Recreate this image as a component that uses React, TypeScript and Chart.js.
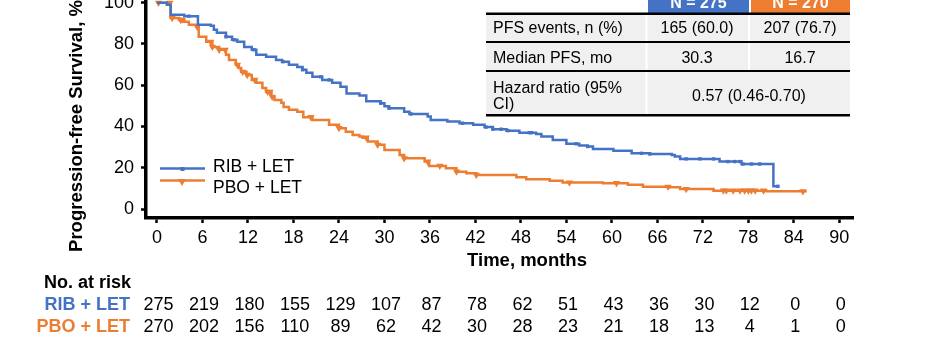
import React, { useEffect, useRef } from "react";
import { Chart, registerables } from "chart.js";

Chart.register(...registerables);

// ---------------- data ----------------
const xTicks = [0, 6, 12, 18, 24, 30, 36, 42, 48, 54, 60, 66, 72, 78, 84, 90];
const yTicks = [0, 20, 40, 60, 80, 100];

const seriesNames = ["RIB + LET", "PBO + LET"];

const ribTimes = [0, 1.3, 1.8, 3.6, 5.4, 7.1, 7.5, 7.9, 9.1, 9.9, 10.6, 11.5, 12.5, 13.1, 14.4, 15.7, 16.5, 17.4, 18.5, 19.2, 19.7, 20.5, 21.8, 23.1, 24.2, 25.0, 26.7, 27.6, 29.5, 30.0, 30.6, 32.6, 33.3, 35.7, 36.1, 38.3, 39.9, 41.7, 43.2, 44.3, 46.1, 47.8, 50.0, 50.7, 52.2, 54.0, 55.7, 56.8, 57.5, 60.2, 62.6, 65.0, 67.9, 68.3, 69.0, 74.2, 77.1, 81.3, 81.9];
const ribSurv = [100, 99.0, 94.2, 93.5, 89.3, 88.8, 86.9, 85.4, 83.5, 82.0, 81.1, 78.6, 77.2, 74.8, 73.8, 72.3, 71.4, 69.9, 68.9, 67.5, 66.0, 64.1, 62.6, 61.2, 59.3, 56.0, 55.0, 52.3, 51.3, 49.8, 48.9, 47.2, 46.1, 44.8, 43.2, 42.4, 41.6, 40.8, 39.7, 38.7, 38.0, 37.0, 36.4, 35.1, 33.5, 31.6, 30.8, 30.3, 29.1, 28.3, 27.0, 26.7, 26.2, 25.4, 24.3, 23.0, 21.8, 11.0, 11.0];

const pboTimes = [0, 1.8, 2.9, 3.6, 4.2, 5.2, 5.5, 6.5, 7.3, 8.2, 9.1, 9.5, 10.4, 10.8, 11.1, 11.8, 12.5, 13.1, 13.9, 14.4, 15.1, 15.5, 16.4, 16.7, 17.4, 18.5, 19.3, 20.5, 22.7, 24.0, 24.9, 25.8, 26.7, 27.1, 27.8, 29.1, 30.0, 32.0, 32.6, 35.3, 35.9, 38.1, 39.5, 40.8, 42.1, 47.4, 48.7, 51.8, 53.5, 58.8, 62.1, 64.1, 67.6, 69.0, 73.4, 80.4, 85.7];
const pboSurv = [100, 92.6, 91.7, 90.8, 89.3, 88.3, 83.5, 81.1, 78.6, 77.2, 74.8, 72.3, 69.9, 68.4, 66.5, 65.0, 62.6, 61.2, 58.7, 56.8, 54.4, 52.9, 51.5, 49.5, 48.1, 47.2, 44.5, 43.2, 40.8, 39.2, 37.5, 35.9, 35.1, 34.6, 32.7, 31.1, 28.6, 26.2, 24.6, 23.0, 20.9, 19.8, 18.1, 17.3, 16.5, 15.4, 14.4, 13.7, 12.8, 12.5, 11.7, 10.8, 10.5, 9.7, 8.9, 8.6, 8.6];

const ribCensor = [4.2, 9.1, 10.2, 12.8, 16.6, 19.2, 21.6, 22.7, 29.5, 30.6, 33.5, 40.3, 43.4, 44.3, 45.4, 46.3, 49.1, 49.4, 55.3, 56.8, 63.9, 65.0, 69.8, 71.6, 73.4, 75.3, 76.2, 76.9, 77.3, 78.4, 79.5, 81.9];
const pboCensor = [0.2, 1.7, 2.0, 3.1, 3.3, 5.3, 7.1, 7.3, 8.2, 9.0, 10.6, 11.3, 11.9, 12.9, 14.6, 14.9, 15.2, 20.3, 24.0, 27.6, 29.1, 32.6, 35.7, 37.3, 39.5, 42.1, 54.4, 60.6, 67.4, 69.8, 74.7, 75.1, 76.0, 76.9, 77.5, 78.0, 78.4, 78.9, 80.0, 85.2];

const atRiskRib = [275, 219, 180, 155, 129, 107, 87, 78, 62, 51, 43, 36, 30, 12, 0, 0];
const atRiskPbo = [270, 202, 156, 110, 89, 62, 42, 30, 28, 23, 21, 18, 13, 4, 1, 0];

const armHeaders = ["N = 275", "N = 270"];
const statLabels = ["PFS events, n (%)", "Median PFS, mo"];
const ribStats = ["165 (60.0)", "30.3"];
const pboStats = ["207 (76.7)", "16.7"];
const hrLabel = ["Hazard ratio (95%", "CI)"];
const hrValue = "0.57 (0.46-0.70)";

// ---------------- style ----------------
const BLUE = "#4472C4";
const ORANGE = "#ED7D31";
const FONT = '"Liberation Sans", Arial, Helvetica, sans-serif';
const W = 947;
const H = 346;
const OFF = 30; // canvas extends above the visible window

function survAt(times: number[], surv: number[], t: number): number {
  let v = surv[0];
  for (let i = 0; i < times.length; i++) {
    if (times[i] <= t) v = surv[i];
    else break;
  }
  return v;
}

const overlayPlugin = {
  id: "overlay",
  afterDraw(chart: any) {
    const ctx = chart.ctx as CanvasRenderingContext2D;
    const xs = chart.scales.x;
    ctx.save();
    ctx.translate(0, OFF);

    // y-axis title
    ctx.save();
    ctx.translate(82, 126);
    ctx.rotate(-Math.PI / 2);
    ctx.font = `bold 18.5px ${FONT}`;
    ctx.fillStyle = "#000";
    ctx.textAlign = "center";
    ctx.textBaseline = "alphabetic";
    ctx.fillText("Progression-free Survival, %", 0, 0);
    ctx.restore();

    // x-axis title
    ctx.font = `bold 18.5px ${FONT}`;
    ctx.fillStyle = "#000";
    ctx.textAlign = "center";
    ctx.textBaseline = "alphabetic";
    ctx.fillText("Time, months", 527, 266);

    // legend
    ctx.lineWidth = 2.5;
    ctx.strokeStyle = BLUE;
    ctx.beginPath();
    ctx.moveTo(160, 168.5);
    ctx.lineTo(205, 168.5);
    ctx.stroke();
    ctx.fillStyle = BLUE;
    ctx.fillRect(180.5, 167, 4, 4);
    ctx.strokeStyle = ORANGE;
    ctx.beginPath();
    ctx.moveTo(160, 180.5);
    ctx.lineTo(205, 180.5);
    ctx.stroke();
    ctx.fillStyle = ORANGE;
    ctx.beginPath();
    ctx.moveTo(178, 179);
    ctx.lineTo(186, 179);
    ctx.lineTo(182, 186);
    ctx.closePath();
    ctx.fill();
    ctx.font = `17.5px ${FONT}`;
    ctx.fillStyle = "#000";
    ctx.textAlign = "left";
    ctx.fillText(seriesNames[0], 213, 172);
    ctx.fillText(seriesNames[1], 213, 193);

    // summary table
    const TL = 486, TR = 850;
    ctx.fillStyle = BLUE;
    ctx.fillRect(648, -20, 101, 34);
    ctx.fillStyle = ORANGE;
    ctx.fillRect(751, -20, TR - 751, 34);
    ctx.font = `bold 16px ${FONT}`;
    ctx.fillStyle = "#fff";
    ctx.textAlign = "center";
    ctx.fillText(armHeaders[0], 698.5, 8);
    ctx.fillText(armHeaders[1], 800.5, 8);

    ctx.fillStyle = "#F0F0F0";
    ctx.fillRect(TL, 14, TR - TL, 101);
    ctx.fillStyle = "#fff";
    ctx.fillRect(645.5, 14, 2, 101);
    ctx.fillRect(748, 14, 2, 57);

    ctx.fillStyle = "#000";
    ctx.fillRect(TL, 12.5, TR - TL, 2.5);
    ctx.fillRect(TL, 41, TR - TL, 2);
    ctx.fillRect(TL, 70, TR - TL, 2);
    ctx.fillRect(TL, 114, TR - TL, 2.5);

    ctx.font = `16px ${FONT}`;
    ctx.fillStyle = "#000";
    ctx.textAlign = "left";
    ctx.fillText(statLabels[0], 493, 33);
    ctx.fillText(statLabels[1], 493, 62.5);
    ctx.fillText(hrLabel[0], 493, 92.5);
    ctx.fillText(hrLabel[1], 493, 109);
    ctx.textAlign = "center";
    ctx.fillText(ribStats[0], 697, 33);
    ctx.fillText(pboStats[0], 800, 33);
    ctx.fillText(ribStats[1], 697, 62.5);
    ctx.fillText(pboStats[1], 800, 62.5);
    ctx.fillText(hrValue, 749, 100.5);

    // number at risk
    ctx.font = `bold 18px ${FONT}`;
    ctx.textAlign = "right";
    ctx.fillStyle = "#000";
    ctx.fillText("No. at risk", 131, 288);
    ctx.fillStyle = BLUE;
    ctx.fillText(seriesNames[0], 130, 310);
    ctx.fillStyle = ORANGE;
    ctx.fillText(seriesNames[1], 130, 331.5);
    ctx.font = `18px ${FONT}`;
    ctx.textAlign = "center";
    ctx.fillStyle = "#000";
    xTicks.forEach((t, i) => {
      const px = xs.getPixelForValue(t) + 1.5;
      ctx.fillText(String(atRiskRib[i]), px, 310);
      ctx.fillText(String(atRiskPbo[i]), px, 331.5);
    });

    ctx.restore();
  },
};

export default function App() {
  const ref = useRef<HTMLCanvasElement | null>(null);

  useEffect(() => {
    document.body.style.margin = "0";
    const canvas = ref.current!;
    const ribLine = ribTimes.map((t, i) => ({ x: t, y: ribSurv[i] }));
    const pboLine = pboTimes.map((t, i) => ({ x: t, y: pboSurv[i] }));
    const ribMarks = ribCensor.map((t) => ({ x: t, y: survAt(ribTimes, ribSurv, t) }));
    const pboMarks = pboCensor.map((t) => ({ x: t, y: survAt(pboTimes, pboSurv, t) }));

    const chart = new Chart(canvas, {
      type: "line",
      data: {
        datasets: [
          {
            label: seriesNames[0] + " censored",
            data: ribMarks,
            showLine: false,
            pointStyle: "rect",
            pointRadius: 2.4,
            pointBackgroundColor: BLUE,
            pointBorderColor: BLUE,
            pointBorderWidth: 0,
          },
          {
            label: seriesNames[0],
            data: ribLine,
            stepped: "before",
            borderColor: BLUE,
            borderWidth: 2.5,
            pointRadius: 0,
            fill: false,
          },
          {
            label: seriesNames[1] + " censored",
            data: pboMarks,
            showLine: false,
            pointStyle: "triangle",
            rotation: 180,
            pointRadius: 4.2,
            pointBackgroundColor: ORANGE,
            pointBorderColor: ORANGE,
            pointBorderWidth: 0,
          },
          {
            label: seriesNames[1],
            data: pboLine,
            stepped: "before",
            borderColor: ORANGE,
            borderWidth: 2.5,
            pointRadius: 0,
            fill: false,
          },
        ] as any,
      },
      options: {
        responsive: false,
        animation: false,
        devicePixelRatio: 1,
        layout: { padding: { top: OFF, right: W - 853, left: 0, bottom: 0 } },
        plugins: {
          legend: { display: false },
          tooltip: { enabled: false },
        },
        scales: {
          x: {
            type: "linear",
            min: -1.45,
            max: 91.8,
            afterBuildTicks: (s: any) => {
              s.ticks = xTicks.map((v) => ({ value: v }));
            },
            afterFit: (s: any) => {
              s.height = H + OFF - (OFF + 218);
            },
            border: { display: true, color: "#000", width: 3.5 },
            grid: {
              drawOnChartArea: false,
              drawTicks: true,
              tickLength: 5,
              tickColor: "#000",
              tickWidth: 2.5,
            },
            ticks: {
              color: "#000",
              font: { family: FONT, size: 18 },
              padding: 4,
              maxRotation: 0,
              autoSkip: false,
              callback: (v: any) => String(v),
            },
          },
          y: {
            type: "linear",
            min: -4.36,
            max: 101.33,
            afterBuildTicks: (s: any) => {
              s.ticks = yTicks.map((v) => ({ value: v }));
            },
            afterFit: (s: any) => {
              s.width = 146;
            },
            border: { display: true, color: "#000", width: 3.5 },
            grid: {
              drawOnChartArea: false,
              drawTicks: true,
              tickLength: 5,
              tickColor: "#000",
              tickWidth: 2.5,
            },
            ticks: {
              color: "#000",
              font: { family: FONT, size: 18 },
              padding: 7,
              callback: (v: any) => String(v),
            },
          },
        },
      } as any,
      plugins: [overlayPlugin],
    });
    return () => chart.destroy();
  }, []);

  return (
    <div
      style={{
        position: "fixed",
        left: 0,
        top: 0,
        width: W,
        height: H,
        overflow: "hidden",
        background: "#fff",
      }}
    >
      <canvas
        ref={ref}
        width={W}
        height={H + OFF}
        style={{ position: "absolute", left: 0, top: -OFF, width: W, height: H + OFF }}
      />
    </div>
  );
}
